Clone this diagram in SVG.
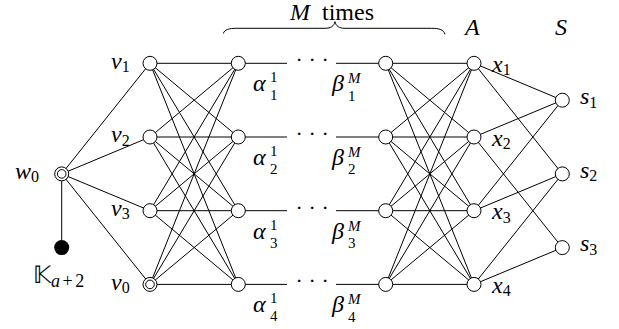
<svg xmlns="http://www.w3.org/2000/svg" width="619" height="329" viewBox="0 0 619 329">
<style>
.e{stroke:#000;stroke-width:1;fill:none}
.n{fill:#fff;stroke:#000;stroke-width:1}
.t{font-family:"Liberation Serif",serif;font-size:24px;fill:#000}
.i{font-style:italic}
.s{font-size:16px;font-style:normal}
.ss{font-size:15px;font-style:normal}
.si{font-size:15px;font-style:italic}
.dots{font-family:"Liberation Serif",serif;font-size:22px;letter-spacing:5.7px}
</style>
<rect width="619" height="329" fill="#fff"/>
<g id="connectors" class="e">
<line x1="61.7" y1="173.9" x2="150" y2="63.3"/>
<line x1="61.7" y1="173.9" x2="150" y2="137"/>
<line x1="61.7" y1="173.9" x2="150" y2="210.7"/>
<line x1="61.7" y1="173.9" x2="150" y2="284.4"/>
<line x1="61.7" y1="173.9" x2="61.7" y2="247.6"/>
<line x1="150" y1="63.3" x2="238.3" y2="63.3"/>
<line x1="150" y1="63.3" x2="238.3" y2="137"/>
<line x1="150" y1="63.3" x2="238.3" y2="210.7"/>
<line x1="150" y1="63.3" x2="238.3" y2="284.4"/>
<line x1="150" y1="137" x2="238.3" y2="63.3"/>
<line x1="150" y1="137" x2="238.3" y2="137"/>
<line x1="150" y1="137" x2="238.3" y2="210.7"/>
<line x1="150" y1="137" x2="238.3" y2="284.4"/>
<line x1="150" y1="210.7" x2="238.3" y2="63.3"/>
<line x1="150" y1="210.7" x2="238.3" y2="137"/>
<line x1="150" y1="210.7" x2="238.3" y2="210.7"/>
<line x1="150" y1="210.7" x2="238.3" y2="284.4"/>
<line x1="150" y1="284.4" x2="238.3" y2="63.3"/>
<line x1="150" y1="284.4" x2="238.3" y2="137"/>
<line x1="150" y1="284.4" x2="238.3" y2="210.7"/>
<line x1="150" y1="284.4" x2="238.3" y2="284.4"/>
<line x1="238.3" y1="63.3" x2="287" y2="63.3"/>
<line x1="238.3" y1="137" x2="287" y2="137"/>
<line x1="238.3" y1="210.7" x2="287" y2="210.7"/>
<line x1="238.3" y1="284.4" x2="287" y2="284.4"/>
<line x1="336" y1="63.3" x2="385.7" y2="63.3"/>
<line x1="336" y1="137" x2="385.7" y2="137"/>
<line x1="336" y1="210.7" x2="385.7" y2="210.7"/>
<line x1="336" y1="284.4" x2="385.7" y2="284.4"/>
<line x1="385.7" y1="63.3" x2="474" y2="63.3"/>
<line x1="385.7" y1="63.3" x2="474" y2="137"/>
<line x1="385.7" y1="63.3" x2="474" y2="210.7"/>
<line x1="385.7" y1="63.3" x2="474" y2="284.4"/>
<line x1="385.7" y1="137" x2="474" y2="63.3"/>
<line x1="385.7" y1="137" x2="474" y2="137"/>
<line x1="385.7" y1="137" x2="474" y2="210.7"/>
<line x1="385.7" y1="137" x2="474" y2="284.4"/>
<line x1="385.7" y1="210.7" x2="474" y2="63.3"/>
<line x1="385.7" y1="210.7" x2="474" y2="137"/>
<line x1="385.7" y1="210.7" x2="474" y2="210.7"/>
<line x1="385.7" y1="210.7" x2="474" y2="284.4"/>
<line x1="385.7" y1="284.4" x2="474" y2="63.3"/>
<line x1="385.7" y1="284.4" x2="474" y2="137"/>
<line x1="385.7" y1="284.4" x2="474" y2="210.7"/>
<line x1="385.7" y1="284.4" x2="474" y2="284.4"/>
<line x1="474" y1="63.3" x2="562.3" y2="100.2"/>
<line x1="474" y1="63.3" x2="562.3" y2="173.9"/>
<line x1="474" y1="137" x2="562.3" y2="100.2"/>
<line x1="474" y1="137" x2="562.3" y2="247.6"/>
<line x1="474" y1="210.7" x2="562.3" y2="100.2"/>
<line x1="474" y1="210.7" x2="562.3" y2="173.9"/>
<line x1="474" y1="284.4" x2="562.3" y2="173.9"/>
<line x1="474" y1="284.4" x2="562.3" y2="247.6"/>
</g>
<g id="brace">
<path class="e" d="M223.3,33.5 C224.5,29.5 229,28.3 236.7,28.3 L325,28.3 C331,28.3 334,26 335,21.7 C336,26 339,28.3 345,28.3 L431.7,28.3 C439,28.3 443.5,29.5 445,34.3"/>
<text class="t" x="290" y="19.5"><tspan class="i">M</tspan><tspan dx="6"> times</tspan></text>
</g>
<g id="headA"><text class="t i" x="465" y="35">A</text></g>
<g id="headS"><text class="t i" x="555" y="35">S</text></g>
<g id="w0"><circle class="n" cx="61.7" cy="173.9" r="7"/><circle class="n" cx="61.7" cy="173.9" r="4.3"/><text class="t i" x="15" y="178.5">w<tspan class="s" dy="3.5">0</tspan></text></g>
<g id="K"><circle cx="61.7" cy="247.6" r="7.5" fill="#000"/><text class="t" x="33" y="283" font-size="26">𝕂<tspan font-size="18" dy="3.5"><tspan font-style="italic">a</tspan><tspan dx="2.5">+</tspan><tspan dx="2.5">2</tspan></tspan></text></g>
<g id="v1"><circle class="n" cx="150" cy="63.3" r="7"/><text class="t i" x="111" y="68.5">v<tspan class="s" dy="3.5">1</tspan></text></g>
<g id="v2"><circle class="n" cx="150" cy="137" r="7"/><text class="t i" x="111" y="142.2">v<tspan class="s" dy="3.5">2</tspan></text></g>
<g id="v3"><circle class="n" cx="150" cy="210.7" r="7"/><text class="t i" x="111" y="215.9">v<tspan class="s" dy="3.5">3</tspan></text></g>
<g id="v0"><circle class="n" cx="150" cy="284.4" r="7"/><circle class="n" cx="150" cy="284.4" r="4.3"/><text class="t i" x="111" y="289.6">v<tspan class="s" dy="3.5">0</tspan></text></g>
<g id="a1"><circle class="n" cx="238.3" cy="63.3" r="7"/><text class="t i" x="253" y="91.3">α</text><text class="t ss" x="270" y="82.3">1</text><text class="t ss" x="270" y="100.3">1</text></g>
<g id="a2"><circle class="n" cx="238.3" cy="137" r="7"/><text class="t i" x="253" y="165">α</text><text class="t ss" x="270" y="156">1</text><text class="t ss" x="270" y="174">2</text></g>
<g id="a3"><circle class="n" cx="238.3" cy="210.7" r="7"/><text class="t i" x="253" y="238.7">α</text><text class="t ss" x="270" y="229.7">1</text><text class="t ss" x="270" y="247.7">3</text></g>
<g id="a4"><circle class="n" cx="238.3" cy="284.4" r="7"/><text class="t i" x="253" y="312.4">α</text><text class="t ss" x="270" y="303.4">1</text><text class="t ss" x="270" y="321.4">4</text></g>
<g id="dots">
<text class="dots" x="295.5" y="67.3">···</text>
<text class="dots" x="295.5" y="141">···</text>
<text class="dots" x="295.5" y="214.7">···</text>
<text class="dots" x="295.5" y="288.4">···</text>
</g>
<g id="b1"><circle class="n" cx="385.7" cy="63.3" r="7"/><text class="t i" x="332" y="91.3">β</text><text class="t si" x="348" y="83.3">M</text><text class="t ss" x="348" y="100.5">1</text></g>
<g id="b2"><circle class="n" cx="385.7" cy="137" r="7"/><text class="t i" x="332" y="165">β</text><text class="t si" x="348" y="157">M</text><text class="t ss" x="348" y="174.2">2</text></g>
<g id="b3"><circle class="n" cx="385.7" cy="210.7" r="7"/><text class="t i" x="332" y="238.7">β</text><text class="t si" x="348" y="230.7">M</text><text class="t ss" x="348" y="247.9">3</text></g>
<g id="b4"><circle class="n" cx="385.7" cy="284.4" r="7"/><text class="t i" x="332" y="312.4">β</text><text class="t si" x="348" y="304.4">M</text><text class="t ss" x="348" y="321.6">4</text></g>
<g id="x1"><circle class="n" cx="474" cy="63.3" r="7"/><text class="t i" x="492" y="71.8">x<tspan class="s" dy="3.5">1</tspan></text></g>
<g id="x2"><circle class="n" cx="474" cy="137" r="7"/><text class="t i" x="492" y="145.5">x<tspan class="s" dy="3.5">2</tspan></text></g>
<g id="x3"><circle class="n" cx="474" cy="210.7" r="7"/><text class="t i" x="492" y="219.2">x<tspan class="s" dy="3.5">3</tspan></text></g>
<g id="x4"><circle class="n" cx="474" cy="284.4" r="7"/><text class="t i" x="492" y="292.9">x<tspan class="s" dy="3.5">4</tspan></text></g>
<g id="s1"><circle class="n" cx="562.3" cy="100.2" r="7"/><text class="t i" x="580" y="104">s<tspan class="s" dy="3.5">1</tspan></text></g>
<g id="s2"><circle class="n" cx="562.3" cy="173.9" r="7"/><text class="t i" x="580" y="177.7">s<tspan class="s" dy="3.5">2</tspan></text></g>
<g id="s3"><circle class="n" cx="562.3" cy="247.6" r="7"/><text class="t i" x="580" y="251.4">s<tspan class="s" dy="3.5">3</tspan></text></g>
</svg>
